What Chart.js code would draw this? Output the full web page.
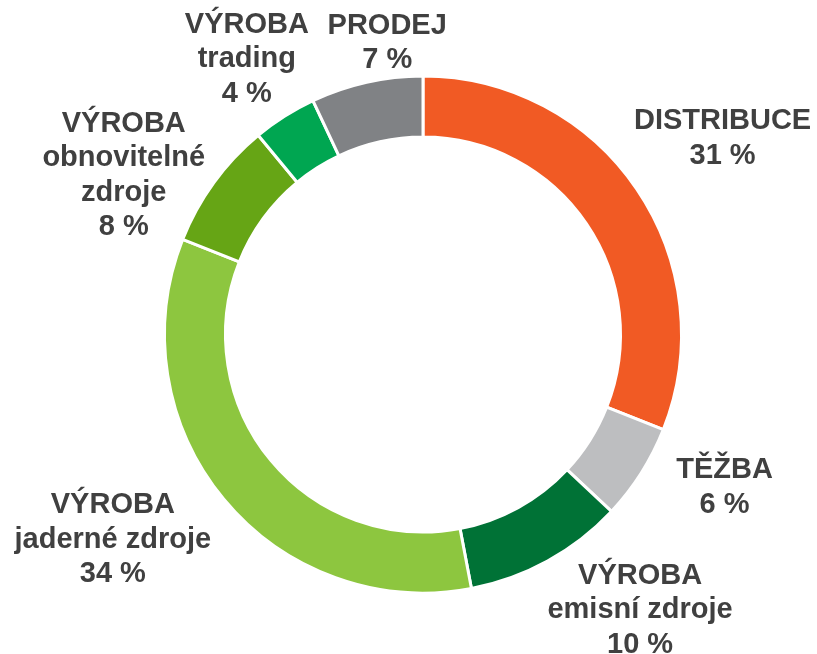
<!DOCTYPE html>
<html lang="cs">
<head>
  <meta charset="utf-8">
  <script src="https://cdn.jsdelivr.net/npm/chart.js@4.4.1/dist/chart.umd.min.js"></script>
  <style>
    html, body { margin: 0; padding: 0; background: #ffffff; }
    .chart-box { width: 817px; height: 654px; position: relative; }
  </style>
</head>
<body>
  <div class="chart-box">
    <canvas id="segmentChart"></canvas>
  </div>

  <script>
    // segment names (each entry = lines of the label) and shares in %
    const segments = [
      ['DISTRIBUCE'],
      ['TĚŽBA'],
      ['VÝROBA', 'emisní zdroje'],
      ['VÝROBA', 'jaderné zdroje'],
      ['VÝROBA', 'obnovitelné', 'zdroje'],
      ['VÝROBA', 'trading'],
      ['PRODEJ']
    ];
    const shares = [31, 6, 10, 34, 8, 4, 7];
    const sliceColors = ['#F15A24', '#BDBEC0', '#007236', '#8DC63F', '#66A515', '#00A651', '#808285'];

    // label placement: angle shift (deg) from slice middle, distance as multiple of outer radius
    const labelAngleShift = [1, -5.5, -9.4, 6.1, -8, -0.2, 5.6];
    const labelDistance = [1.385, 1.308, 1.358, 1.439, 1.311, 1.265, 1.137];

    const outsideLabels = {
      id: 'outsideLabels',
      afterDatasetsDraw(chart) {
        const ctx = chart.ctx;
        const arcs = chart.getDatasetMeta(0).data;
        ctx.save();
        ctx.font = 'bold 29px "Liberation Sans", Arial, sans-serif';
        ctx.fillStyle = '#404040';
        ctx.textAlign = 'center';
        ctx.textBaseline = 'middle';
        const lineH = 34.5;
        arcs.forEach((arc, i) => {
          const mid = (arc.startAngle + arc.endAngle) / 2 + labelAngleShift[i] * Math.PI / 180;
          const r = arc.outerRadius * labelDistance[i];
          const cx = arc.x + Math.cos(mid) * r;
          const cy = arc.y + Math.sin(mid) * r;
          const lines = segments[i].concat([shares[i] + ' %']);
          const top = cy - (lines.length - 1) * lineH / 2;
          lines.forEach((t, k) => ctx.fillText(t, cx, top + k * lineH));
        });
        ctx.restore();
      }
    };

    new Chart(document.getElementById('segmentChart'), {
      type: 'doughnut',
      data: {
        labels: segments.map(s => s.join(' ')),
        datasets: [{
          data: shares,
          backgroundColor: sliceColors,
          borderColor: '#ffffff',
          borderWidth: 3
        }]
      },
      options: {
        responsive: true,
        maintainAspectRatio: false,
        animation: false,
        cutout: '76.4%',
        layout: { padding: { left: 163, right: 134, top: 74.5, bottom: 59.5 } },
        plugins: {
          legend: { display: false },
          tooltip: { enabled: false }
        }
      },
      plugins: [outsideLabels]
    });
  </script>
</body>
</html>
